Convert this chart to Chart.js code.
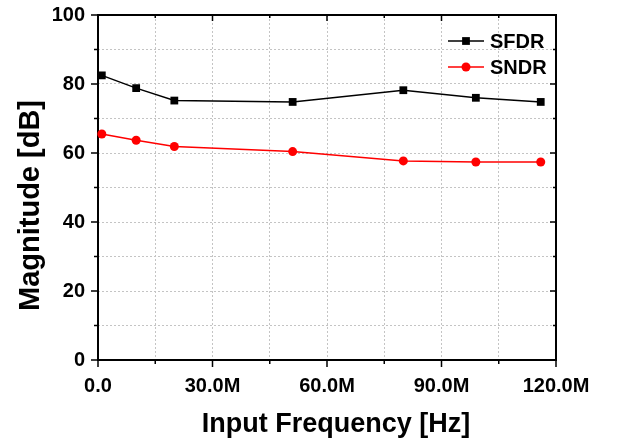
<!DOCTYPE html>
<html>
<head>
<meta charset="utf-8">
<script src="https://cdn.jsdelivr.net/npm/chart.js@4"></script>
<style>
  html, body { margin: 0; padding: 0; background: #fff; }
  #wrap { width: 634px; height: 443px; }
</style>
</head>
<body>
<div id="wrap"><canvas id="chart"></canvas></div>
<script>
// values
const frequencies = [1e6, 10e6, 20e6, 51e6, 80e6, 99e6, 116e6];
const sfdr = [82.5, 78.8, 75.2, 74.8, 78.2, 76.0, 74.8];
const sndr = [65.5, 63.7, 61.9, 60.4, 57.7, 57.4, 57.4];
const xTickLabels = [0, 30e6, 60e6, 90e6, 120e6];
const yTickLabels = [0, 20, 40, 60, 80, 100];
const seriesNames = ['SFDR', 'SNDR'];

const FONT = "'Liberation Sans', Arial, sans-serif";

const isMajorX = v => xTickLabels.some(t => Math.abs(t - v) < 1);
const isMajorY = v => yTickLabels.some(t => Math.abs(t - v) < 1e-6);
const fmtFreq = v => v === 0 ? '0.0' : (v / 1e6).toFixed(1) + 'M';

// box around the plot + tick marks, legend and axis titles
const framePlugin = {
  id: 'frame',
  beforeDatasetsDraw(chart) {
    const {ctx, chartArea: a, scales: {x, y}} = chart;
    ctx.save();
    ctx.setLineDash([]);
    ctx.strokeStyle = '#000';
    ctx.lineWidth = 2;
    ctx.strokeRect(a.left, a.top, a.right - a.left, a.bottom - a.top);
    ctx.lineWidth = 1.5;
    ctx.beginPath();
    x.ticks.forEach(t => {
      const px = x.getPixelForValue(t.value);
      const major = isMajorX(t.value);
      ctx.moveTo(px, a.bottom); ctx.lineTo(px, a.bottom + (major ? 7 : 4));
      ctx.moveTo(px, a.top); ctx.lineTo(px, a.top + (major ? 6 : 3));
    });
    y.ticks.forEach(t => {
      const py = y.getPixelForValue(t.value);
      const major = isMajorY(t.value);
      ctx.moveTo(a.left, py); ctx.lineTo(a.left - (major ? 7 : 4), py);
      ctx.moveTo(a.right, py); ctx.lineTo(a.right - (major ? 6 : 3), py);
    });
    ctx.stroke();
    ctx.restore();
  },
  afterDraw(chart) {
    const {ctx, chartArea: a} = chart;
    ctx.save();
    // legend
    chart.data.datasets.forEach((ds, i) => {
      const ly = a.top + 26 + i * 26;
      const x0 = a.right - 108, x1 = a.right - 72, mx = (x0 + x1) / 2;
      ctx.strokeStyle = ds.borderColor;
      ctx.fillStyle = ds.backgroundColor;
      ctx.lineWidth = ds.borderWidth;
      ctx.beginPath(); ctx.moveTo(x0, ly); ctx.lineTo(x1, ly); ctx.stroke();
      ctx.beginPath();
      if (ds.pointStyle === 'rect') {
        const s = ds.pointRadius * Math.SQRT1_2;
        ctx.rect(mx - s, ly - s, 2 * s, 2 * s);
      } else {
        ctx.arc(mx, ly, ds.pointRadius, 0, Math.PI * 2);
      }
      ctx.fill();
      ctx.fillStyle = '#000';
      ctx.font = 'bold 20px ' + FONT;
      ctx.textAlign = 'left';
      ctx.textBaseline = 'middle';
      ctx.fillText(ds.label, a.right - 66, ly + 1);
    });
    // axis titles
    ctx.fillStyle = '#000';
    ctx.font = 'bold 27px ' + FONT;
    ctx.textAlign = 'center';
    ctx.textBaseline = 'alphabetic';
    ctx.fillText('Input Frequency [Hz]', (a.left + a.right) / 2 + 9, chart.height - 11);
    ctx.translate(31, (a.top + a.bottom) / 2 + 18);
    ctx.rotate(-Math.PI / 2);
    ctx.font = 'bold 29px ' + FONT;
    ctx.textBaseline = 'middle';
    ctx.fillText('Magnitude [dB]', 0, 0);
    ctx.restore();
  }
};

const ctx = document.getElementById('chart').getContext('2d');
new Chart(ctx, {
  type: 'line',
  data: {
    datasets: [{
      label: seriesNames[0],
      data: frequencies.map((f, i) => ({x: f, y: sfdr[i]})),
      borderColor: '#000000',
      backgroundColor: '#000000',
      borderWidth: 1.5,
      pointStyle: 'rect',
      pointRadius: 5.5,
      pointBorderWidth: 0,
      clip: false
    }, {
      label: seriesNames[1],
      data: frequencies.map((f, i) => ({x: f, y: sndr[i]})),
      borderColor: '#ff0000',
      backgroundColor: '#ff0000',
      borderWidth: 1.5,
      pointStyle: 'circle',
      pointRadius: 4.5,
      pointBorderWidth: 0,
      clip: false
    }]
  },
  options: {
    responsive: true,
    maintainAspectRatio: false,
    animation: false,
    layout: { padding: { left: 0, top: 15, right: 78, bottom: 0 } },
    plugins: { legend: { display: false }, tooltip: { enabled: false } },
    scales: {
      x: {
        type: 'linear',
        min: 0,
        max: 120e6,
        afterFit: s => { s.height = 83; s.paddingLeft = 0; s.paddingRight = 0; },
        grid: { color: '#c4c4c4', lineWidth: 1, drawTicks: false },
        border: { display: false, dash: [2, 2] },
        ticks: {
          stepSize: 15e6,
          autoSkip: false,
          maxRotation: 0,
          padding: 14,
          color: '#000',
          font: { family: FONT, size: 20, weight: 'bold' },
          callback: v => isMajorX(v) ? fmtFreq(v) : ''
        }
      },
      y: {
        min: 0,
        max: 100,
        afterFit: s => { s.width = 98; s.paddingTop = 0; s.paddingBottom = 0; },
        grid: { color: '#c4c4c4', lineWidth: 1, drawTicks: false },
        border: { display: false, dash: [2, 2] },
        ticks: {
          stepSize: 10,
          autoSkip: false,
          padding: 13,
          color: '#000',
          font: { family: FONT, size: 20, weight: 'bold' },
          callback: v => isMajorY(v) ? String(v) : ''
        }
      }
    }
  },
  plugins: [framePlugin]
});
</script>
</body>
</html>
